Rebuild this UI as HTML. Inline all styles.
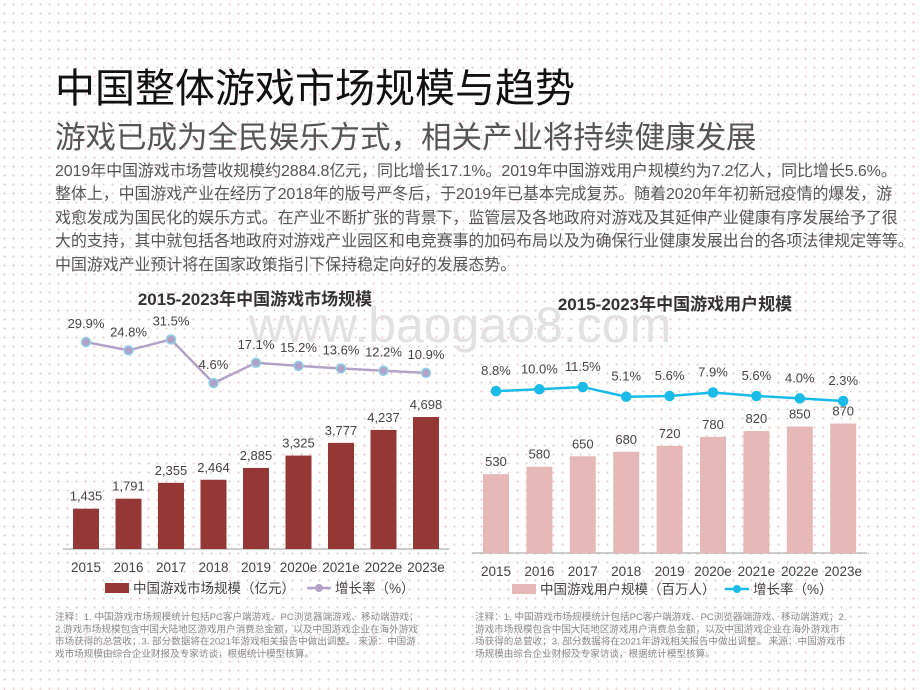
<!DOCTYPE html>
<html><head><meta charset="utf-8">
<style>
html,body{margin:0;padding:0}
body{width:920px;height:690px;overflow:hidden;position:relative;background:#fff;background-image:radial-gradient(circle,#e9c9cc 0.8px,transparent 1.2px);background-size:9px 9px;font-family:"Liberation Sans","Noto Sans CJK SC",sans-serif}
.t{position:absolute;left:55px;white-space:nowrap}
#title{top:56px;font-size:40px;color:#111;letter-spacing:0px}
#sub{top:113px;font-size:30.5px;color:#555}
#para{top:160px;font-size:16px;color:#555;line-height:23.4px;letter-spacing:-0.1px}
svg{position:absolute;left:0;top:0}
</style></head><body>
<div class="t" id="title">中国整体游戏市场规模与趋势</div>
<div class="t" id="sub">游戏已成为全民娱乐方式，相关产业将持续健康发展</div>
<div class="t" id="para">2019年中国游戏市场营收规模约2884.8亿元，同比增长17.1%。2019年中国游戏用户规模约为7.2亿人，同比增长5.6%。<br>整体上，中国游戏产业在经历了2018年的版号严冬后，于2019年已基本完成复苏。随着2020年年初新冠疫情的爆发，游<br>戏愈发成为国民化的娱乐方式。在产业不断扩张的背景下，监管层及各地政府对游戏及其延伸产业健康有序发展给予了很<br>大的支持，其中就包括各地政府对游戏产业园区和电竞赛事的加码布局以及为确保行业健康发展出台的各项法律规定等等。<br>中国游戏产业预计将在国家政策指引下保持稳定向好的发展态势。</div>
<svg id="chart" width="920" height="690" xmlns="http://www.w3.org/2000/svg" font-family="Liberation Sans, Noto Sans CJK SC, sans-serif">
<text x="460" y="342" font-size="50" fill="#e2e2e2" text-anchor="middle">www.baogao8.com</text>
</svg>
<script>
const years=["2015","2016","2017","2018","2019","2020e","2021e","2022e","2023e"];
const marketValues=[1435,1791,2355,2464,2885,3325,3777,4237,4698];
const marketGrowth=[29.9,24.8,31.5,4.6,17.1,15.2,13.6,12.2,10.9];
const userValues=[530,580,650,680,720,780,820,850,870];
const userGrowth=[8.8,10.0,11.5,5.1,5.6,7.9,5.6,4.0,2.3];
const NS="http://www.w3.org/2000/svg";
const svg=document.getElementById('chart');
function mk(tag,attrs,parent,text){const e=document.createElementNS(NS,tag);for(const k in attrs)e.setAttribute(k,attrs[k]);if(text!==undefined)e.textContent=text;(parent||svg).appendChild(e);return e;}
function chart(cfg){
  const g=mk('g',{});
  
  
  const t=mk('text',{x:cfg.titleX,y:cfg.titleY,'font-size':17,'font-weight':'bold',fill:'#333','text-anchor':'middle'},g,cfg.title);
  
  
  const xs=i=>cfg.x0+i*cfg.step;
  const by=v=>cfg.base-v*cfg.scale;
  const ly=v=>cfg.l0-v*cfg.lscale;
  const ax=mk('line',{x1:cfg.x0-cfg.step/2-2,x2:cfg.x0+8.5*cfg.step+2,y1:cfg.base,y2:cfg.base,stroke:'#999','stroke-width':1},g);
  
  
  years.forEach((y,i)=>{
    const v=cfg.values[i];
    const r=mk('rect',{x:xs(i)-13,y:by(v),width:26,height:v*cfg.scale,fill:cfg.barColor},g);
    
    
    const vl=mk('text',{x:xs(i),y:by(v)-8,'font-size':13,fill:'#444','text-anchor':'middle'},g,cfg.fmt(v));
    
    
    const xl=mk('text',{x:xs(i),y:cfg.base+23,'font-size':13.5,fill:'#444','text-anchor':'middle'},g,y);
    
    
  });
  const pts=cfg.growth.map((v,i)=>xs(i)+','+ly(v)).join(' ');
  const pl=mk('polyline',{points:pts,fill:'none',stroke:cfg.lineColor,'stroke-width':2.5},g);
  
  
  cfg.growth.forEach((v,i)=>{
    const c=mk('circle',{cx:xs(i),cy:ly(v),r:cfg.dotR,fill:cfg.dotColor,stroke:cfg.dotStroke,'stroke-width':1.5},g);
    
    
    const gl=mk('text',{x:xs(i),y:ly(v)-cfg.lblOff,'font-size':13,fill:'#444','text-anchor':'middle'},g,v.toFixed(1)+'%');
    
    
  });
  const lg=mk('g',{},g);
  
  
  mk('rect',{x:cfg.legX,y:cfg.legY-6,width:24,height:10,fill:cfg.barColor},lg);
  mk('text',{x:cfg.legX+28,y:cfg.legY+4,'font-size':13.5,fill:'#444'},lg,cfg.legBar);
  mk('line',{x1:cfg.leg2X,x2:cfg.leg2X+24,y1:cfg.legY-1,y2:cfg.legY-1,stroke:cfg.lineColor,'stroke-width':2.5},lg);
  mk('circle',{cx:cfg.leg2X+12,cy:cfg.legY-1,r:4,fill:cfg.dotColor},lg);
  mk('text',{x:cfg.leg2X+28,y:cfg.legY+4,'font-size':13.5,fill:'#444'},lg,'增长率（%）');
  const nt=mk('text',{x:cfg.noteX,y:cfg.noteY,'font-size':9.6,fill:'#888'},g);
  
  
  cfg.notes.forEach((s,i)=>mk('tspan',{x:cfg.noteX,dy:i?12.3:0},nt,s));
}
chart({name:'market-size-chart',title:'2015-2023年中国游戏市场规模',titleX:255,titleY:305,x0:86,step:42.5,base:549,scale:0.0281,
  values:marketValues,growth:marketGrowth,l0:390.5,lscale:1.62,barColor:'#953735',lineColor:'#b3a2c7',dotColor:'#b3a2c7',dotStroke:'#8fd3e8',dotR:4.5,lblOff:14,
  fmt:v=>v.toLocaleString('en-US'),legX:105,legY:589,leg2X:307,legBar:'中国游戏市场规模（亿元）',
  noteX:55,noteY:620,notes:['注释：1. 中国游戏市场规模统计包括PC客户端游戏、PC浏览器端游戏、移动端游戏；','2.游戏市场规模包含中国大陆地区游戏用户消费总金额，以及中国游戏企业在海外游戏','市场获得的总营收；3. 部分数据将在2021年游戏相关报告中做出调整。 来源：中国游','戏市场规模由综合企业财报及专家访谈，根据统计模型核算。']});
chart({name:'user-size-chart',title:'2015-2023年中国游戏用户规模',titleX:675,titleY:310,x0:496,step:43.4,base:553,scale:0.1488,
  values:userValues,growth:userGrowth,l0:404.5,lscale:1.52,barColor:'#e6b9b8',lineColor:'#1bbbe8',dotColor:'#1bbbe8',dotStroke:'#1bbbe8',dotR:4.5,lblOff:16,
  fmt:v=>String(v),legX:512,legY:590,leg2X:725,legBar:'中国游戏用户规模（百万人）',
  noteX:475,noteY:620,notes:['注释：1. 中国游戏市场规模统计包括PC客户端游戏、PC浏览器端游戏、移动端游戏；2.','游戏市场规模包含中国大陆地区游戏用户消费总金额，以及中国游戏企业在海外游戏市','场获得的总营收；3. 部分数据将在2021年游戏相关报告中做出调整。 来源：中国游戏市','场规模由综合企业财报及专家访谈，根据统计模型核算。']});
</script>
</body></html>
